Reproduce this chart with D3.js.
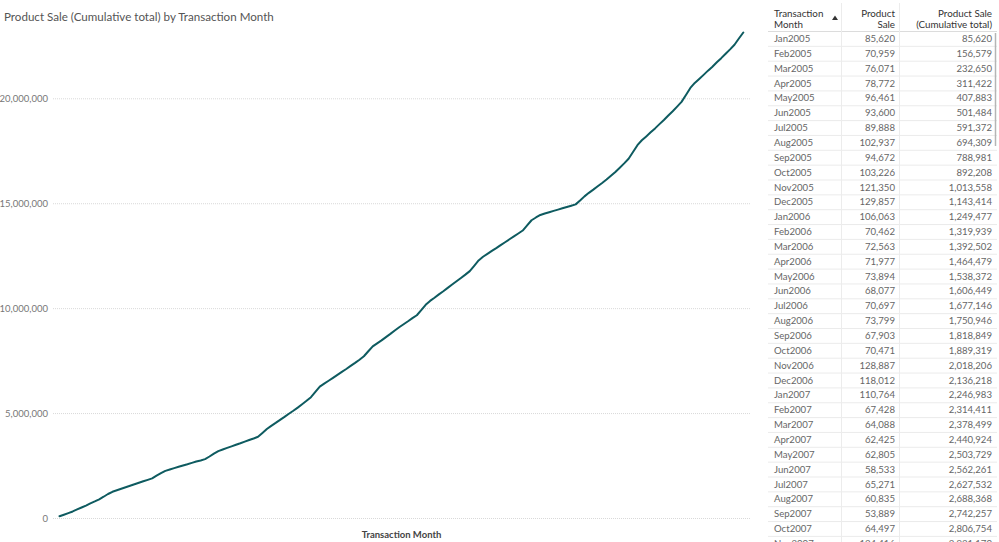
<!DOCTYPE html>
<html>
<head>
<meta charset="utf-8">
<script src="https://cdn.jsdelivr.net/npm/d3@7"></script>
<style>
  html, body { margin: 0; padding: 0; background: #fff; }
  svg { display: block; font-family: Lato, "Open Sans", sans-serif; }
</style>
</head>
<body>
<svg id="chart" width="999" height="542"></svg>
<script>
// ---- data ----
const monthAbbr = ["Jan","Feb","Mar","Apr","May","Jun","Jul","Aug","Sep","Oct","Nov","Dec"];
const years = [2005,2006,2007,2008,2009,2010,2011,2012,2013,2014,2015,2016,2017];
const categories = years.flatMap(y => monthAbbr.map(m => m + y));

const sales2005 = [85620.1, 70959, 76071, 78772.1, 96461.2, 93600.2, 89888.2, 102937.2, 94672.3, 103226.3, 121350, 129856.8];
const sales2006 = [106062.7, 70461.7, 72562.9, 71976.9, 73893.8, 68077, 70697, 73799.2, 67903, 70470.8, 128887, 118012];
const sales2007 = [110764.2, 67428, 64088, 62425, 62805, 58532.8, 65271, 60835.2, 53889, 64497, 124416, 136812];
const sales2008 = [121530, 74215, 76480, 72935, 77120, 71860, 78340, 75105, 73890, 80275, 181640, 186920];
const sales2009 = [152310, 139880, 146725, 141390, 148960, 143215, 150480, 158240, 163905, 171660, 257940, 249615];
const sales2010 = [142870, 134520, 139760, 140310, 144880, 136950, 147630, 142215, 150490, 164870, 238140, 231860];
const sales2011 = [146520, 139180, 158340, 151760, 160915, 154280, 145630, 140870, 148210, 139450, 245860, 252340];
const sales2012 = [185420, 151230, 158670, 149840, 162350, 155910, 160480, 153720, 158960, 166840, 252180, 259470];
const sales2013 = [172650, 136240, 141580, 134920, 143310, 137650, 140280, 133970, 139460, 142830, 248610, 241930];
const sales2014 = [131450, 118720, 68340, 61250, 65870, 59430, 63980, 58710, 62540, 66190, 182450, 198760];
const sales2015 = [168240, 152380, 161790, 154620, 163450, 178930, 186540, 198370, 207160, 221840, 318650, 326290];
const sales2016 = [235410, 184720, 192380, 188560, 203140, 196870, 211350, 205620, 218940, 226480, 328710, 336450];
const sales2017 = [238260, 189570, 194830, 201460, 188920, 207350, 198640, 213780, 205410, 218920, 296850, 288530];

const sales = [].concat(sales2005, sales2006, sales2007, sales2008, sales2009, sales2010, sales2011,
                        sales2012, sales2013, sales2014, sales2015, sales2016, sales2017);
const cumulative = Array.from(d3.cumsum(sales));

const yTicks = [0, 5000000, 10000000, 15000000, 20000000];

const title = "Product Sale (Cumulative total) by Transaction Month";
const xTitle = "Transaction Month";
const tableHeaders = [["Transaction", "Month"], ["Product", "Sale"], ["Product Sale", "(Cumulative total)"]];
const visibleRows = 35; // rows shown in the table's scroll window

// ---- drawing ----
const svg = d3.select("#chart");
const fmt = d3.format(",.0f");

svg.append("text")
  .attr("x", 4).attr("y", 21)
  .attr("font-size", 11.6).attr("fill", "#555")
  .text(title);

const x = d3.scalePoint().domain(categories).range([59.5, 743.3]);
const y = d3.scaleLinear().domain([0, 20000000]).range([518, 98.3]);

const gridLeft = 53, gridRight = 750;

const yAxis = d3.axisLeft(y).tickValues(yTicks).tickFormat(d3.format(",")).tickSize(0).tickPadding(5);
const gy = svg.append("g").attr("transform", `translate(${gridLeft},0)`).call(yAxis);
gy.select(".domain").remove();
gy.selectAll("text").attr("font-size", 9.5).attr("fill", "#777").attr("font-family", "Lato, sans-serif");

svg.append("g").selectAll("line").data(yTicks).join("line")
  .attr("x1", gridLeft).attr("x2", gridRight)
  .attr("y1", d => y(d) + 0.5).attr("y2", d => y(d) + 0.5)
  .attr("stroke", "#d9d9d9").attr("stroke-dasharray", "1,1");

const line = d3.line().x((d, i) => x(categories[i])).y(d => y(d)).curve(d3.curveLinear);
svg.append("path")
  .datum(cumulative)
  .attr("d", line)
  .attr("fill", "none")
  .attr("stroke", "#0e5b60")
  .attr("stroke-width", 2)
  .attr("stroke-linejoin", "round")
  .attr("stroke-linecap", "round");

svg.append("text")
  .attr("x", (gridLeft + gridRight) / 2).attr("y", 538)
  .attr("text-anchor", "middle")
  .attr("font-size", 9.5).attr("font-weight", "bold").attr("fill", "#444")
  .text(xTitle);

// ---- table ----
const tbl = svg.append("g");
const tLeft = 768, tRight = 997;
const colX = [774, 895, 992];
const colDiv = [841, 899];
const headerBottom = 31;
const rowH = 14.85;

tableHeaders.forEach((lines, c) => {
  lines.forEach((t, li) => {
    tbl.append("text")
      .attr("x", colX[c]).attr("y", 17 + li * 11.2)
      .attr("text-anchor", c === 0 ? "start" : "end")
      .attr("font-size", 9.8).attr("fill", "#333")
      .text(t);
  });
});
tbl.append("path")
  .attr("d", "M832,20 L835,15.5 L838,20 Z")
  .attr("fill", "#333");

const rowData = categories.slice(0, visibleRows);
const rows = tbl.append("g").selectAll("g").data(rowData).join("g")
  .attr("transform", (d, i) => `translate(0,${headerBottom + i * rowH})`);
rows.append("line")
  .attr("x1", tLeft).attr("x2", tRight)
  .attr("y1", rowH + 0.5).attr("y2", rowH + 0.5)
  .attr("stroke", "#ebebeb");
rows.append("text").attr("x", colX[0]).attr("y", 11)
  .attr("font-size", 9.6).attr("fill", "#666").text(d => d);
rows.append("text").attr("x", colX[1]).attr("y", 11).attr("text-anchor", "end")
  .attr("font-size", 9.6).attr("fill", "#666").text((d, i) => fmt(sales[i]));
rows.append("text").attr("x", colX[2]).attr("y", 11).attr("text-anchor", "end")
  .attr("font-size", 9.6).attr("fill", "#666").text((d, i) => fmt(cumulative[i]));

tbl.append("line").attr("x1", tLeft).attr("x2", tRight)
  .attr("y1", headerBottom + 0.5).attr("y2", headerBottom + 0.5).attr("stroke", "#dcdcdc");
colDiv.forEach(cx => {
  tbl.append("line").attr("x1", cx + 0.5).attr("x2", cx + 0.5)
    .attr("y1", 3).attr("y2", 542).attr("stroke", "#ececec");
});
tbl.append("line").attr("x1", 995.5).attr("x2", 995.5)
  .attr("y1", 33).attr("y2", 146).attr("stroke", "#b5b5b5").attr("stroke-width", 1.5);
</script>
</body>
</html>
